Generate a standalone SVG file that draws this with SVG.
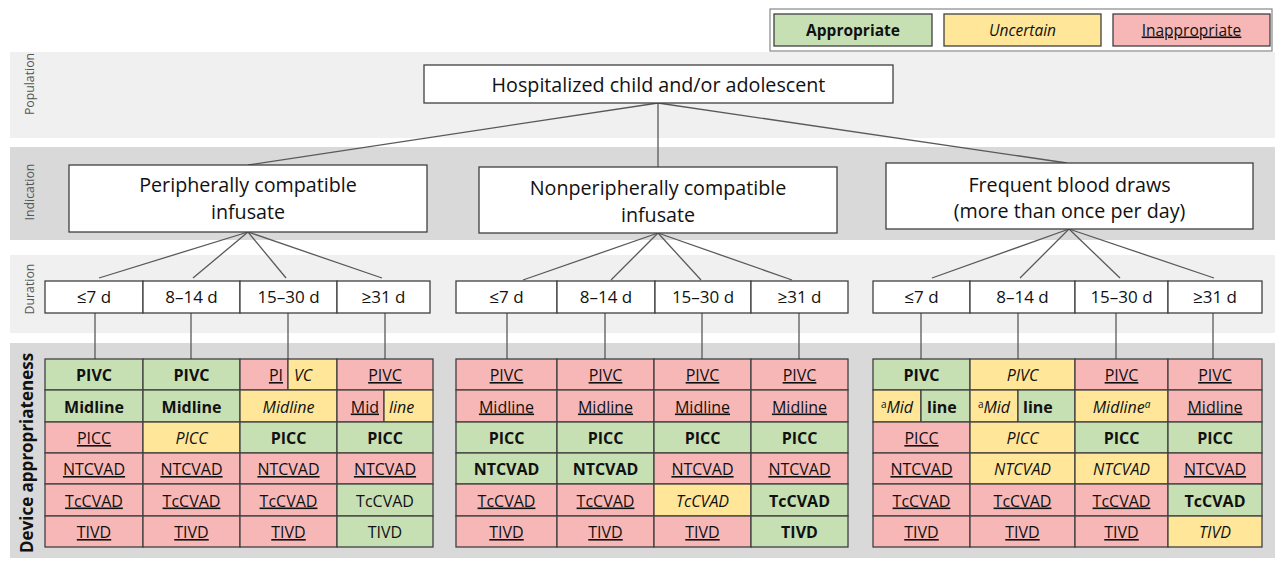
<svg xmlns="http://www.w3.org/2000/svg" width="1277" height="563" viewBox="0 0 1277 563">
<style>
text{font-family:"Open Sans","Noto Sans","Liberation Sans",sans-serif;fill:#111}
.band1{fill:#f0f0f0}.band2{fill:#d9d9d9}
.box{fill:#fff;stroke:#404040;stroke-width:1.3}
.g{fill:#c6e0b4;stroke:#404040;stroke-width:1.3}
.y{fill:#ffe699;stroke:#404040;stroke-width:1.3}
.r{fill:#f7b7b7;stroke:#404040;stroke-width:1.3}
.c{font-size:16px;text-anchor:middle}
.b{font-weight:700}
.i{font-style:italic}
.u{text-decoration:underline}
.s{text-anchor:start}.e{text-anchor:end}
.lab{font-size:12.3px;fill:#555;text-anchor:middle}
.node{font-size:19.7px;text-anchor:middle}
.dur{font-size:17px;text-anchor:middle}
.conn line{stroke:#595959;stroke-width:1.3}
</style>
<rect width="1277" height="563" fill="#fff"/>
<!-- bands -->
<rect class="band1" x="10" y="52" width="1265" height="86"/>
<rect class="band2" x="10" y="147" width="1265" height="93"/>
<rect class="band1" x="10" y="255" width="1265" height="78"/>
<rect class="band2" x="10" y="343" width="1265" height="215"/>
<text class="lab" transform="translate(33.5,84) rotate(-90)">Population</text>
<text class="lab" transform="translate(33.5,192) rotate(-90)">Indication</text>
<text class="lab" transform="translate(33.5,289) rotate(-90)">Duration</text>
<text transform="translate(33,453) rotate(-90)" style="font-size:17px;font-weight:700;text-anchor:middle">Device appropriateness</text>
<!-- legend -->
<g id="legend">
<rect x="770" y="9" width="502" height="42" fill="#fff" stroke="#888" stroke-width="1.2"/>
<rect class="g" x="774" y="14" width="158" height="32"/>
<rect class="y" x="944" y="14" width="157" height="32"/>
<rect class="r" x="1113" y="14" width="157" height="32"/>
<text class="c b" x="853" y="35.5" style="font-size:15.5px">Appropriate</text>
<text class="c i" x="1022.5" y="35.5" style="font-size:15.5px">Uncertain</text>
<text class="c u" x="1191.5" y="35.5" style="font-size:15.5px">Inappropriate</text>
</g>
<!-- connectors -->
<g id="connectors" class="conn">
<line x1="658" y1="103" x2="248" y2="165"/>
<line x1="658" y1="103" x2="658" y2="167"/>
<line x1="658" y1="103" x2="1067" y2="163"/>
<line x1="248" y1="232" x2="99" y2="278"/>
<line x1="248" y1="232" x2="193" y2="278"/>
<line x1="248" y1="232" x2="286" y2="278"/>
<line x1="248" y1="232" x2="382" y2="278"/>
<line x1="658" y1="233" x2="523" y2="280"/>
<line x1="658" y1="233" x2="611" y2="280"/>
<line x1="658" y1="233" x2="701" y2="280"/>
<line x1="658" y1="233" x2="792" y2="280"/>
<line x1="1069" y1="229" x2="932" y2="278"/>
<line x1="1069" y1="229" x2="1020" y2="278"/>
<line x1="1069" y1="229" x2="1120" y2="278"/>
<line x1="1069" y1="229" x2="1214" y2="278"/>
<line x1="95" y1="313" x2="95" y2="359"/>
<line x1="191" y1="313" x2="191" y2="359"/>
<line x1="288" y1="313" x2="288" y2="359"/>
<line x1="385" y1="313" x2="385" y2="359"/>
<line x1="507" y1="313" x2="507" y2="359"/>
<line x1="605" y1="313" x2="605" y2="359"/>
<line x1="702" y1="313" x2="702" y2="359"/>
<line x1="799" y1="313" x2="799" y2="359"/>
<line x1="921" y1="313" x2="921" y2="359"/>
<line x1="1018" y1="313" x2="1018" y2="359"/>
<line x1="1116" y1="313" x2="1116" y2="359"/>
<line x1="1213" y1="313" x2="1213" y2="359"/>
</g>
<!-- population -->
<g id="population">
<rect class="box" x="424" y="65" width="469" height="38"/>
<text class="node" x="658.5" y="91.5">Hospitalized child and/or adolescent</text>
</g>
<!-- indications -->
<g id="ind-peripheral">
<rect class="box" x="69" y="165" width="358" height="67"/>
<text class="node" x="248" y="192">Peripherally compatible</text>
<text class="node" x="248" y="219">infusate</text>
</g>
<g id="ind-nonperipheral">
<rect class="box" x="479" y="167" width="358" height="66"/>
<text class="node" x="658" y="195">Nonperipherally compatible</text>
<text class="node" x="658" y="222">infusate</text>
</g>
<g id="ind-blood">
<rect class="box" x="886" y="163" width="367" height="66"/>
<text class="node" x="1069.5" y="192">Frequent blood draws</text>
<text class="node" x="1069.5" y="218">(more than once per day)</text>
</g>
<!-- durations -->
<g id="dur-peripheral">
<rect class="box" x="45" y="281" width="98" height="32"/><rect class="box" x="143" y="281" width="97" height="32"/><rect class="box" x="240" y="281" width="97" height="32"/><rect class="box" x="337" y="281" width="93" height="32"/>
<text class="dur" x="94" y="303">≤7 d</text><text class="dur" x="191.5" y="303">8–14 d</text><text class="dur" x="288.5" y="303">15–30 d</text><text class="dur" x="383.5" y="303">≥31 d</text>
</g>
<g id="dur-nonperipheral">
<rect class="box" x="456" y="281" width="101" height="32"/><rect class="box" x="557" y="281" width="98" height="32"/><rect class="box" x="655" y="281" width="96" height="32"/><rect class="box" x="751" y="281" width="97" height="32"/>
<text class="dur" x="506.5" y="303">≤7 d</text><text class="dur" x="606" y="303">8–14 d</text><text class="dur" x="703" y="303">15–30 d</text><text class="dur" x="799.5" y="303">≥31 d</text>
</g>
<g id="dur-blood">
<rect class="box" x="873" y="281" width="97" height="32"/><rect class="box" x="970" y="281" width="105" height="32"/><rect class="box" x="1075" y="281" width="93" height="32"/><rect class="box" x="1168" y="281" width="94" height="32"/>
<text class="dur" x="921.5" y="303">≤7 d</text><text class="dur" x="1022.5" y="303">8–14 d</text><text class="dur" x="1121.5" y="303">15–30 d</text><text class="dur" x="1215" y="303">≥31 d</text>
</g>
<!-- device table: peripheral -->
<g id="dev-peripheral">
<rect class="g" x="45" y="359" width="98" height="31"/><rect class="g" x="143" y="359" width="97" height="31"/><rect class="r" x="240" y="359" width="48" height="31"/><rect class="y" x="288" y="359" width="49" height="31"/><rect class="r" x="337" y="359" width="96" height="31"/>
<text class="c b" x="94" y="381">PIVC</text><text class="c b" x="191.5" y="381">PIVC</text><text class="c e u" x="283" y="381">PI</text><text class="c s i" x="294" y="381">VC</text><text class="c u" x="385" y="381">PIVC</text>
<rect class="g" x="45" y="390" width="98" height="32"/><rect class="g" x="143" y="390" width="97" height="32"/><rect class="y" x="240" y="390" width="97" height="32"/><rect class="r" x="337" y="390" width="47" height="32"/><rect class="y" x="384" y="390" width="49" height="32"/>
<text class="c b" x="94" y="412.5">Midline</text><text class="c b" x="191.5" y="412.5">Midline</text><text class="c i" x="288.5" y="412.5">Midline</text><text class="c e u" x="379" y="412.5">Mid</text><text class="c s i" x="389" y="412.5">line</text>
<rect class="r" x="45" y="422" width="98" height="31"/><rect class="y" x="143" y="422" width="97" height="31"/><rect class="g" x="240" y="422" width="97" height="31"/><rect class="g" x="337" y="422" width="96" height="31"/>
<text class="c u" x="94" y="444">PICC</text><text class="c i" x="191.5" y="444">PICC</text><text class="c b" x="288.5" y="444">PICC</text><text class="c b" x="385" y="444">PICC</text>
<rect class="r" x="45" y="453" width="98" height="31"/><rect class="r" x="143" y="453" width="97" height="31"/><rect class="r" x="240" y="453" width="97" height="31"/><rect class="r" x="337" y="453" width="96" height="31"/>
<text class="c u" x="94" y="475">NTCVAD</text><text class="c u" x="191.5" y="475">NTCVAD</text><text class="c u" x="288.5" y="475">NTCVAD</text><text class="c u" x="385" y="475">NTCVAD</text>
<rect class="r" x="45" y="484" width="98" height="32"/><rect class="r" x="143" y="484" width="97" height="32"/><rect class="r" x="240" y="484" width="97" height="32"/><rect class="g" x="337" y="484" width="96" height="32"/>
<text class="c u" x="94" y="506.5">TcCVAD</text><text class="c u" x="191.5" y="506.5">TcCVAD</text><text class="c u" x="288.5" y="506.5">TcCVAD</text><text class="c" x="385" y="506.5">TcCVAD</text>
<rect class="r" x="45" y="516" width="98" height="31"/><rect class="r" x="143" y="516" width="97" height="31"/><rect class="r" x="240" y="516" width="97" height="31"/><rect class="g" x="337" y="516" width="96" height="31"/>
<text class="c u" x="94" y="538">TIVD</text><text class="c u" x="191.5" y="538">TIVD</text><text class="c u" x="288.5" y="538">TIVD</text><text class="c" x="385" y="538">TIVD</text>
</g>
<!-- device table: nonperipheral -->
<g id="dev-nonperipheral">
<rect class="r" x="456" y="359" width="101" height="31"/><rect class="r" x="557" y="359" width="97" height="31"/><rect class="r" x="654" y="359" width="97" height="31"/><rect class="r" x="751" y="359" width="97" height="31"/>
<text class="c u" x="506.5" y="381">PIVC</text><text class="c u" x="605.5" y="381">PIVC</text><text class="c u" x="702.5" y="381">PIVC</text><text class="c u" x="799.5" y="381">PIVC</text>
<rect class="r" x="456" y="390" width="101" height="32"/><rect class="r" x="557" y="390" width="97" height="32"/><rect class="r" x="654" y="390" width="97" height="32"/><rect class="r" x="751" y="390" width="97" height="32"/>
<text class="c u" x="506.5" y="412.5">Midline</text><text class="c u" x="605.5" y="412.5">Midline</text><text class="c u" x="702.5" y="412.5">Midline</text><text class="c u" x="799.5" y="412.5">Midline</text>
<rect class="g" x="456" y="422" width="101" height="31"/><rect class="g" x="557" y="422" width="97" height="31"/><rect class="g" x="654" y="422" width="97" height="31"/><rect class="g" x="751" y="422" width="97" height="31"/>
<text class="c b" x="506.5" y="444">PICC</text><text class="c b" x="605.5" y="444">PICC</text><text class="c b" x="702.5" y="444">PICC</text><text class="c b" x="799.5" y="444">PICC</text>
<rect class="g" x="456" y="453" width="101" height="31"/><rect class="g" x="557" y="453" width="97" height="31"/><rect class="r" x="654" y="453" width="97" height="31"/><rect class="r" x="751" y="453" width="97" height="31"/>
<text class="c b" x="506.5" y="475">NTCVAD</text><text class="c b" x="605.5" y="475">NTCVAD</text><text class="c u" x="702.5" y="475">NTCVAD</text><text class="c u" x="799.5" y="475">NTCVAD</text>
<rect class="r" x="456" y="484" width="101" height="32"/><rect class="r" x="557" y="484" width="97" height="32"/><rect class="y" x="654" y="484" width="97" height="32"/><rect class="g" x="751" y="484" width="97" height="32"/>
<text class="c u" x="506.5" y="506.5">TcCVAD</text><text class="c u" x="605.5" y="506.5">TcCVAD</text><text class="c i" x="702.5" y="506.5">TcCVAD</text><text class="c b" x="799.5" y="506.5">TcCVAD</text>
<rect class="r" x="456" y="516" width="101" height="31"/><rect class="r" x="557" y="516" width="97" height="31"/><rect class="r" x="654" y="516" width="97" height="31"/><rect class="g" x="751" y="516" width="97" height="31"/>
<text class="c u" x="506.5" y="538">TIVD</text><text class="c u" x="605.5" y="538">TIVD</text><text class="c u" x="702.5" y="538">TIVD</text><text class="c b" x="799.5" y="538">TIVD</text>
</g>
<!-- device table: blood draws -->
<g id="dev-blood">
<rect class="g" x="873" y="359" width="97" height="31"/><rect class="y" x="970" y="359" width="105" height="31"/><rect class="r" x="1075" y="359" width="93" height="31"/><rect class="r" x="1168" y="359" width="94" height="31"/>
<text class="c b" x="921.5" y="381">PIVC</text><text class="c i" x="1022.5" y="381">PIVC</text><text class="c u" x="1121.5" y="381">PIVC</text><text class="c u" x="1215" y="381">PIVC</text>
<rect class="y" x="873" y="390" width="48" height="32"/><rect class="g" x="921" y="390" width="49" height="32"/><rect class="y" x="970" y="390" width="48" height="32"/><rect class="g" x="1018" y="390" width="57" height="32"/><rect class="y" x="1075" y="390" width="93" height="32"/><rect class="r" x="1168" y="390" width="94" height="32"/>
<text class="c i" x="897" y="412.5"><tspan font-size="10" font-style="normal" dy="-5">a</tspan><tspan dy="5">Mid</tspan></text><text class="c s b" x="927" y="412.5">line</text>
<text class="c i" x="994" y="412.5"><tspan font-size="10" font-style="normal" dy="-5">a</tspan><tspan dy="5">Mid</tspan></text><text class="c s b" x="1023" y="412.5">line</text>
<text class="c i" x="1121.5" y="412.5">Midline<tspan font-size="10" dy="-5">a</tspan></text><text class="c u" x="1215" y="412.5">Midline</text>
<rect class="r" x="873" y="422" width="97" height="31"/><rect class="y" x="970" y="422" width="105" height="31"/><rect class="g" x="1075" y="422" width="93" height="31"/><rect class="g" x="1168" y="422" width="94" height="31"/>
<text class="c u" x="921.5" y="444">PICC</text><text class="c i" x="1022.5" y="444">PICC</text><text class="c b" x="1121.5" y="444">PICC</text><text class="c b" x="1215" y="444">PICC</text>
<rect class="r" x="873" y="453" width="97" height="31"/><rect class="y" x="970" y="453" width="105" height="31"/><rect class="y" x="1075" y="453" width="93" height="31"/><rect class="r" x="1168" y="453" width="94" height="31"/>
<text class="c u" x="921.5" y="475">NTCVAD</text><text class="c i" x="1022.5" y="475">NTCVAD</text><text class="c i" x="1121.5" y="475">NTCVAD</text><text class="c u" x="1215" y="475">NTCVAD</text>
<rect class="r" x="873" y="484" width="97" height="32"/><rect class="r" x="970" y="484" width="105" height="32"/><rect class="r" x="1075" y="484" width="93" height="32"/><rect class="g" x="1168" y="484" width="94" height="32"/>
<text class="c u" x="921.5" y="506.5">TcCVAD</text><text class="c u" x="1022.5" y="506.5">TcCVAD</text><text class="c u" x="1121.5" y="506.5">TcCVAD</text><text class="c b" x="1215" y="506.5">TcCVAD</text>
<rect class="r" x="873" y="516" width="97" height="31"/><rect class="r" x="970" y="516" width="105" height="31"/><rect class="r" x="1075" y="516" width="93" height="31"/><rect class="y" x="1168" y="516" width="94" height="31"/>
<text class="c u" x="921.5" y="538">TIVD</text><text class="c u" x="1022.5" y="538">TIVD</text><text class="c u" x="1121.5" y="538">TIVD</text><text class="c i" x="1215" y="538">TIVD</text>
</g>
</svg>
